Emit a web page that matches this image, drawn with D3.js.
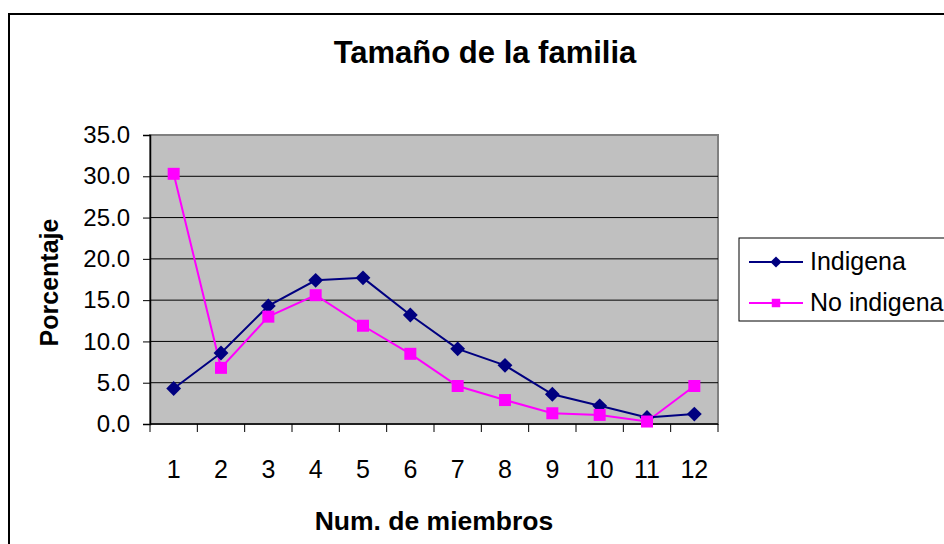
<!DOCTYPE html>
<html lang="en">
<head>
<meta charset="utf-8">
<title>Tamaño de la familia</title>
<script src="https://cdn.jsdelivr.net/npm/d3@7/dist/d3.min.js"></script>
<style>
  body { margin: 0; background: #fff; }
  text { font-family: "Liberation Sans", Arial, sans-serif; }
</style>
</head>
<body>
<script>
  // chart data
  var miembros = ["1", "2", "3", "4", "5", "6", "7", "8", "9", "10", "11", "12"];
  var indigena = [4.3, 8.6, 14.3, 17.4, 17.7, 13.2, 9.1, 7.1, 3.6, 2.2, 0.8, 1.2];
  var noIndigena = [30.3, 6.8, 13.0, 15.6, 11.9, 8.5, 4.6, 2.9, 1.3, 1.1, 0.3, 4.6];
  var yTicks = [0, 5, 10, 15, 20, 25, 30, 35];
  var seriesNames = ["Indigena", "No indigena"];

  var width = 944;
  var height = 544;
  var plot = { left: 150, right: 718, top: 135, bottom: 424 };

  var svg = d3.select("body")
    .append("svg")
    .attr("width", width)
    .attr("height", height);

  // outer chart frame (runs off the right and bottom edges)
  svg.append("rect")
    .attr("x", 9).attr("y", 14)
    .attr("width", 1000).attr("height", 600)
    .attr("fill", "#fff")
    .attr("stroke", "#000")
    .attr("stroke-width", 2);

  var x = d3.scaleBand()
    .domain(miembros)
    .range([plot.left, plot.right]);

  var y = d3.scaleLinear()
    .domain([0, 35])
    .range([plot.bottom, plot.top]);

  // plot area
  svg.append("rect")
    .attr("x", plot.left).attr("y", plot.top)
    .attr("width", plot.right - plot.left)
    .attr("height", plot.bottom - plot.top)
    .attr("fill", "#c0c0c0")
    .attr("stroke", "#808080")
    .attr("stroke-width", 2);

  // gridlines
  svg.append("g")
    .selectAll("line")
    .data(yTicks.filter(function(d) { return d > 0 && d < 35; }))
    .enter()
    .append("line")
    .attr("x1", plot.left).attr("x2", plot.right)
    .attr("y1", function(d) { return y(d); })
    .attr("y2", function(d) { return y(d); })
    .attr("stroke", "#000")
    .attr("stroke-width", 1);

  // y axis
  var yAxis = svg.append("g")
    .attr("transform", "translate(" + plot.left + ",0)")
    .call(d3.axisLeft(y).tickValues(yTicks).tickFormat(d3.format(".1f")).tickSize(7).tickPadding(13));
  yAxis.select(".domain").attr("stroke", "#000").attr("stroke-width", 1.5);
  yAxis.selectAll(".tick line").attr("stroke", "#000");
  yAxis.selectAll("text")
    .attr("font-size", 24)
    .attr("fill", "#000")
    .style("font-family", "'Liberation Sans', Arial, sans-serif");

  // x axis: ticks on the band edges, labels in the band centres
  var xAxis = svg.append("g")
    .attr("transform", "translate(0," + plot.bottom + ")");
  xAxis.append("line")
    .attr("x1", plot.left).attr("x2", plot.right)
    .attr("stroke", "#000").attr("stroke-width", 1.5);
  var edges = miembros.map(function(d) { return x(d); }).concat([plot.right]);
  xAxis.selectAll("line.tk")
    .data(edges)
    .enter()
    .append("line")
    .attr("class", "tk")
    .attr("x1", function(d) { return d; })
    .attr("x2", function(d) { return d; })
    .attr("y1", 0).attr("y2", 8)
    .attr("stroke", "#000");
  xAxis.selectAll("text")
    .data(miembros)
    .enter()
    .append("text")
    .attr("x", function(d) { return x(d) + x.bandwidth() / 2; })
    .attr("y", 54)
    .attr("text-anchor", "middle")
    .attr("font-size", 25)
    .text(function(d) { return d; });

  // titles
  svg.append("text")
    .attr("x", 485).attr("y", 63)
    .attr("text-anchor", "middle")
    .attr("font-size", 31)
    .attr("font-weight", "bold")
    .text("Tamaño de la familia");

  svg.append("text")
    .attr("x", (plot.left + plot.right) / 2).attr("y", 530)
    .attr("text-anchor", "middle")
    .attr("font-size", 26.5)
    .attr("font-weight", "bold")
    .text("Num. de miembros");

  svg.append("text")
    .attr("transform", "translate(58," + ((plot.top + plot.bottom) / 2 + 3) + ") rotate(-90)")
    .attr("text-anchor", "middle")
    .attr("font-size", 25)
    .attr("font-weight", "bold")
    .text("Porcentaje");

  // series
  var cx = function(d, i) { return x(miembros[i]) + x.bandwidth() / 2; };
  var line = d3.line()
    .x(cx)
    .y(function(d) { return y(d); });

  var diamond = d3.symbol().type(d3.symbolDiamond2).size(140);
  var square = d3.symbol().type(d3.symbolSquare).size(144);

  svg.append("path")
    .datum(noIndigena)
    .attr("d", line)
    .attr("fill", "none")
    .attr("stroke", "#ff00ff")
    .attr("stroke-width", 2);

  svg.append("path")
    .datum(indigena)
    .attr("d", line)
    .attr("fill", "none")
    .attr("stroke", "#000080")
    .attr("stroke-width", 2);

  svg.append("g")
    .selectAll("path")
    .data(indigena)
    .enter()
    .append("path")
    .attr("d", diamond)
    .attr("transform", function(d, i) { return "translate(" + cx(d, i) + "," + y(d) + ")"; })
    .attr("fill", "#000080");

  svg.append("g")
    .selectAll("path")
    .data(noIndigena)
    .enter()
    .append("path")
    .attr("d", square)
    .attr("transform", function(d, i) { return "translate(" + cx(d, i) + "," + y(d) + ")"; })
    .attr("fill", "#ff00ff");

  // legend
  var legend = svg.append("g");
  legend.append("rect")
    .attr("x", 739).attr("y", 238)
    .attr("width", 300).attr("height", 83)
    .attr("fill", "#fff")
    .attr("stroke", "#000")
    .attr("stroke-width", 1);

  var legendColors = ["#000080", "#ff00ff"];
  var legendSymbols = [d3.symbol().type(d3.symbolDiamond2).size(80), d3.symbol().type(d3.symbolSquare).size(72)];
  seriesNames.forEach(function(name, i) {
    var ly = 262 + i * 41;
    legend.append("line")
      .attr("x1", 749).attr("x2", 803)
      .attr("y1", ly).attr("y2", ly)
      .attr("stroke", legendColors[i])
      .attr("stroke-width", 2);
    legend.append("path")
      .attr("d", legendSymbols[i])
      .attr("transform", "translate(776," + ly + ")")
      .attr("fill", legendColors[i]);
    legend.append("text")
      .attr("x", 810).attr("y", ly + 8)
      .attr("font-size", 25)
      .text(name);
  });
</script>
</body>
</html>
